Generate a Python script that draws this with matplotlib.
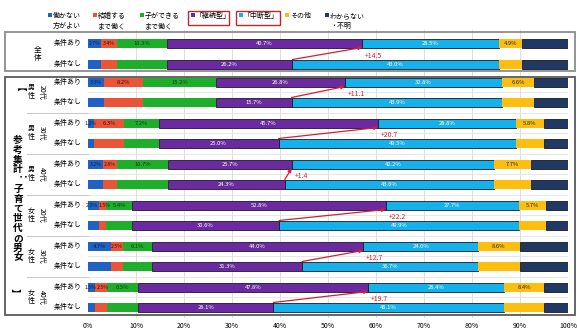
import matplotlib
matplotlib.use('agg')

import matplotlib.pyplot as plt
from matplotlib.patches import Rectangle

plt.rcParams['font.family'] = ['Noto Sans CJK JP', 'DejaVu Sans']

# rows: 全体 + six sub groups, each with 条件あり / 条件なし
groups = ['全体', '男性20代', '男性30代', '男性40代', '女性20代', '女性30代', '女性40代']
conditions = ['条件あり', '条件なし']

not_work = [2.7, 3.3, 1.2, 3.2, 2.3, 4.7, 1.5]
until_marriage = [3.4, 8.2, 6.3, 2.8, 1.5, 2.5, 2.5]
until_child = [10.3, 15.2, 7.2, 10.7, 5.4, 6.1, 6.5]
keep_with = [40.7, 26.8, 45.7, 25.7, 52.8, 44.0, 47.8]
keep_without = [26.2, 15.7, 25.0, 24.3, 30.6, 31.3, 28.1]
break_with = [28.5, 32.8, 28.8, 42.2, 27.7, 24.0, 28.4]
break_without = [43.0, 43.9, 49.5, 43.6, 49.9, 36.7, 48.1]
other = [4.9, 6.6, 5.8, 7.7, 5.7, 8.6, 8.4]
unknown = [9.5, 7.1, 5.0, 7.7, 4.6, 10.1, 4.9]

legend_labels = ['働かない\n方がよい', '結婚する\nまで働く', '子ができる\nまで働く',
                 '「継続型」', '「中断型」', 'その他', 'わからない\n・不明']
colors = ['#1f62c4', '#ec5437', '#1fae2b', '#6b2aa1', '#14b1ec', '#fdbf0f', '#1f3864']
text_colors = ['#10204a', '#3a1008', '#0b3a10', 'white', 'white', '#222222', 'white']
edged = [False, False, False, True, True, False, True]

W, H = 577, 333
fig = plt.figure(figsize=(W / 100, H / 100), dpi=100)


def fx(x):
    return x / W


def fy(y):
    return 1 - y / H


# axes in pixel-like y units so rows line up with the frames
ax = fig.add_axes([fx(88), fy(318), (568 - 88) / W, (318 - 30) / H])
ax.set_xlim(0, 100)
ax.set_ylim(318, 30)
for s in ax.spines.values():
    s.set_visible(False)
ax.set_yticks([])
ax.set_xticks(range(0, 101, 10))
ax.set_xticklabels([f'{v}%' for v in range(0, 101, 10)], fontsize=5)
ax.tick_params(axis='x', length=0, pad=3)
for v in range(10, 101, 10):
    ax.axvline(v, color='#d9d9d9', lw=0.6, zorder=0)

# row centres
row_y = [43, 64]
for g in range(6):
    row_y += [82 + g * 41, 102 + g * 41]

# faint separators between rows inside the lower frame
for a, b in zip(row_y[2:-1], row_y[3:]):
    ax.axhline((a + b) / 2, color='#e3e3e3', lw=0.6, zorder=0)

bar_h = 9
min_gap = 2.6  # spacing (in %) needed between two small value labels
for i in range(len(groups)):
    for j, cond in enumerate(conditions):
        y = row_y[2 * i + j]
        keep = keep_with[i] if j == 0 else keep_without[i]
        brk = break_with[i] if j == 0 else break_without[i]
        vals = [not_work[i], until_marriage[i], until_child[i], keep, brk, other[i], unknown[i]]
        left = 0
        centers = []
        for k, v in enumerate(vals):
            ax.barh(y, v, left=left, height=bar_h, color=colors[k],
                    edgecolor='#1a1a1a' if edged[k] else colors[k],
                    lw=0.6 if edged[k] else 0, zorder=2)
            centers.append(left + v / 2)
            left += v
        shown = list(range(6)) if j == 0 else [3, 4]
        # push apart labels of narrow neighbouring segments
        for a, b in zip(shown[:-1], shown[1:]):
            if centers[b] - centers[a] < min_gap and b <= 2:
                d = min_gap - (centers[b] - centers[a])
                centers[a] -= d / 2
                centers[b] += d / 2
        for k in shown:
            small = vals[k] < 4
            ax.text(centers[k], y, f'{vals[k]:.1f}%', ha='center', va='center',
                    fontsize=3.7 if small else 4.2, color=text_colors[k], zorder=3)
        fig.text(fx(82), fy(y), cond, ha='right', va='center', fontsize=5)

    # change of 継続型 between the two conditions
    start = not_work[i] + until_marriage[i] + until_child[i]
    x_top = start + keep_with[i]
    x_bot = start + keep_without[i]
    y_top = row_y[2 * i] + bar_h / 2
    y_bot = row_y[2 * i + 1] - bar_h / 2
    ax.annotate('', xy=(x_top, y_top), xytext=(x_bot, y_bot),
                arrowprops=dict(arrowstyle='-|>', color='#d42030', lw=0.9,
                                mutation_scale=5, shrinkA=0, shrinkB=0), zorder=4)
    ax.text(x_top + 0.6, (y_top + y_bot) / 2 + 2, f'+{keep_with[i] - keep_without[i]:.1f}',
            color='#d42030', fontsize=5, ha='left', va='center', zorder=4)

# frames
fig.patches.append(Rectangle((fx(5), fy(71)), fx(570), 39 / H, transform=fig.transFigure,
                             fill=False, edgecolor='#8c8c8c', lw=1.3))
fig.patches.append(Rectangle((fx(5), fy(315)), fx(570), 238 / H, transform=fig.transFigure,
                             fill=False, edgecolor='#595959', lw=1.3))
for g in range(5):
    yy = 112.5 + g * 41
    fig.add_artist(plt.Line2D([fx(27), fx(88)], [fy(yy), fy(yy)], color='#c8c8c8', lw=0.7))

# left labels
fig.text(fx(38), fy(54), '全\n体', ha='center', va='center', fontsize=5.5, linespacing=1.1)
for g in range(6):
    name = groups[g + 1]
    yc = 92 + g * 41
    fig.text(fx(31), fy(yc), '\n'.join(name[:2]), ha='center', va='center',
             fontsize=5, linespacing=1.0)
    fig.text(fx(42), fy(yc), name[2:], ha='center', va='center', fontsize=5, rotation=-90)

title_chars = '参考集計：子育て世代の男女'
for n, ch in enumerate(title_chars):
    rot = -90 if ch == '：' else 0
    fig.text(fx(18), fy(140 + n * 9.8), ch, ha='center', va='center',
             fontsize=7, fontweight='bold', rotation=rot)
fig.text(fx(15), fy(92), '【', ha='center', va='center', fontsize=7, fontweight='bold', rotation=-90)
fig.text(fx(15), fy(293), '】', ha='center', va='center', fontsize=7, fontweight='bold', rotation=-90)

# legend
legend_x = [50, 95, 142, 193, 241, 287, 327]
for k, lab in enumerate(legend_labels):
    x0 = legend_x[k]
    fig.patches.append(Rectangle((fx(x0 - 2), fy(17)), 4 / W, 4 / H, transform=fig.transFigure,
                                 facecolor=colors[k], edgecolor='none'))
    fig.text(fx(x0 + 3), fy(12), lab, ha='left', va='top', fontsize=5, linespacing=1.3)
for bx0, bx1 in [(188, 229), (236, 280)]:
    fig.patches.append(Rectangle((fx(bx0), fy(25)), (bx1 - bx0) / W, 14 / H,
                                 transform=fig.transFigure, fill=False,
                                 edgecolor='#c0282d', lw=1.0))

fig.savefig('out.png', dpi=100)
